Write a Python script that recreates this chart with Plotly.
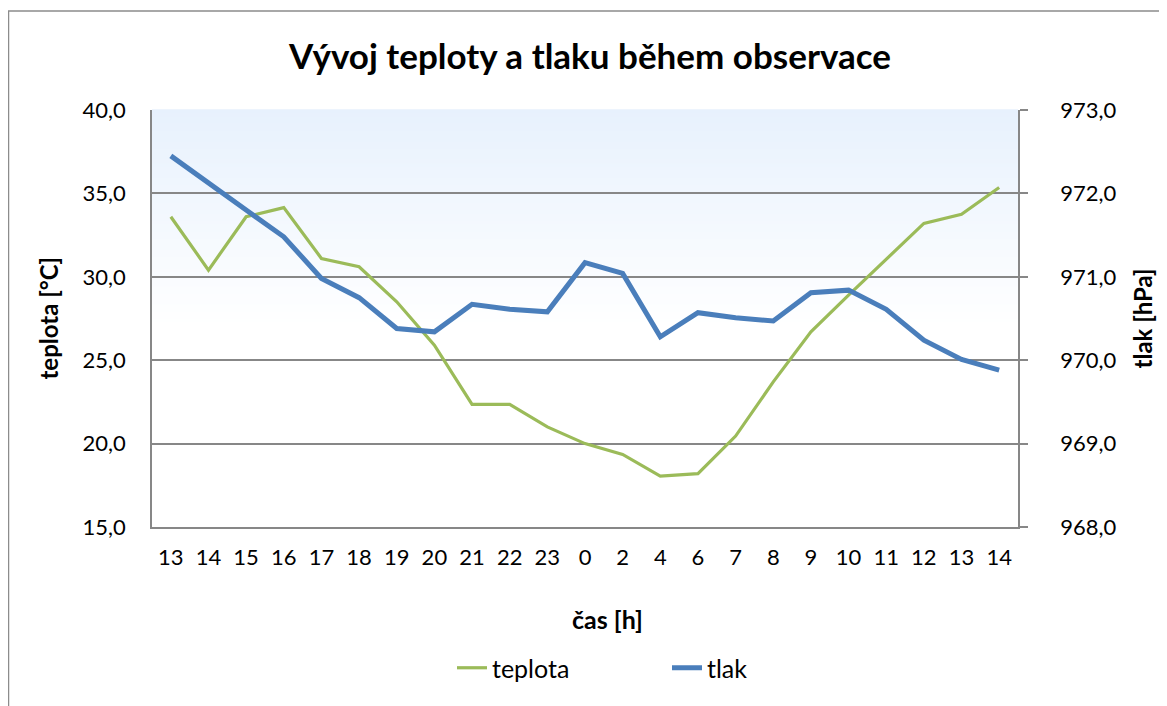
import plotly.graph_objects as go

hours = ["13", "14", "15", "16", "17", "18", "19", "20", "21", "22", "23", "0",
         "2", "4", "6", "7", "8", "9", "10", "11", "12", "13", "14"]
teplota = [33.6, 30.4, 33.6, 34.15, 31.1, 30.6, 28.5, 25.9, 22.35, 22.35, 21.0, 20.0,
           19.35, 18.05, 18.2, 20.45, 23.7, 26.7, 28.9, 31.05, 33.2, 33.75, 35.35]
tlak = [972.45, 972.12, 971.8, 971.48, 970.98, 970.75, 970.38, 970.34, 970.67, 970.61,
        970.58, 971.17, 971.04, 970.28, 970.57, 970.51, 970.47, 970.81, 970.84, 970.61,
        970.24, 970.01, 969.88]

idx = list(range(len(hours)))
FONT = "Lato, 'Open Sans', sans-serif"
GRID = "#878787"

fig = go.Figure()
fig.add_trace(go.Scatter(x=idx, y=teplota, name="teplota", mode="lines",
                         line=dict(color="#9BBB59", width=3.2), yaxis="y"))
fig.add_trace(go.Scatter(x=idx, y=tlak, name="tlak", mode="lines",
                         line=dict(color="#4A7EBB", width=5), yaxis="y2"))

# gradient background (decoration)
shapes = []
n = 60
top_c = (231, 241, 253)
for i in range(n):
    f0 = 1.0 - 0.52 * i / n
    f1 = 1.0 - 0.52 * (i + 1) / n
    t = (i + 0.5) / n
    c = tuple(int(round(top_c[k] + (255 - top_c[k]) * t)) for k in range(3))
    shapes.append(dict(type="rect", xref="x domain", yref="y domain",
                       x0=0, x1=1, y0=f1, y1=f0 + 0.002, layer="below",
                       line=dict(width=0), fillcolor="rgb(%d,%d,%d)" % c))
# outer chart border
shapes.append(dict(type="rect", xref="paper", yref="paper",
                   x0=-0.1657, x1=1.18, y0=-0.45, y1=1.2374,
                   line=dict(color="#8C8C8C", width=1.5), fillcolor="rgba(0,0,0,0)"))

fig.update_layout(
    width=1167, height=706,
    margin=dict(l=144, r=157, t=102, b=187, autoexpand=False),
    paper_bgcolor="white", plot_bgcolor="rgba(0,0,0,0)",
    separators=", ",
    font=dict(family=FONT, size=22, color="#000000"),
    title=dict(text="<b>Vývoj teploty a tlaku během observace</b>",
               x=582 / 1167, xanchor="center", y=1 - 49 / 706, yanchor="middle",
               font=dict(family=FONT, size=35, color="#000000")),
    xaxis=dict(range=[-0.5, len(hours) - 0.5], tickvals=idx, ticktext=hours,
               showgrid=False, showline=True, linecolor=GRID, linewidth=1.5,
               ticks="", zeroline=False, tickfont=dict(size=22),
               ticklabelstandoff=10),
    yaxis=dict(range=[15, 40], dtick=5, tickformat=".1f", showgrid=True,
               gridcolor=GRID, gridwidth=1.5, showline=True, linecolor=GRID,
               linewidth=1.5, ticks="", zeroline=False, ticklabelstandoff=20,
               tickfont=dict(size=22)),
    yaxis2=dict(range=[968, 973], dtick=1, tickformat=".1f", overlaying="y",
                side="right", showgrid=False, showline=True, linecolor=GRID,
                linewidth=1.5, ticks="outside", ticklen=8, tickcolor=GRID,
                tickwidth=1.5, zeroline=False, ticklabelstandoff=28,
                tickfont=dict(size=22)),
    showlegend=True,
    legend=dict(orientation="h", x=300 / 866, xanchor="left",
                y=(527 - 668) / 417, yanchor="middle", font=dict(size=25),
                entrywidth=170, bgcolor="rgba(0,0,0,0)"),
    shapes=shapes,
    annotations=[
        dict(text="<b>teplota [°C]</b>", xref="paper", yref="paper",
             x=(48 - 152) / 866, y=0.5, textangle=-90, showarrow=False,
             xanchor="center", yanchor="middle", font=dict(size=24)),
        dict(text="<b>tlak [hPa]</b>", xref="paper", yref="paper",
             x=(1142 - 152) / 866, y=0.5, textangle=-90, showarrow=False,
             xanchor="center", yanchor="middle", font=dict(size=24)),
        dict(text="<b>čas [h]</b>", xref="paper", yref="paper",
             x=(607 - 152) / 866, y=(527 - 619) / 417, showarrow=False,
             xanchor="center", yanchor="middle", font=dict(size=25)),
    ],
)

fig.write_html("out.html")
